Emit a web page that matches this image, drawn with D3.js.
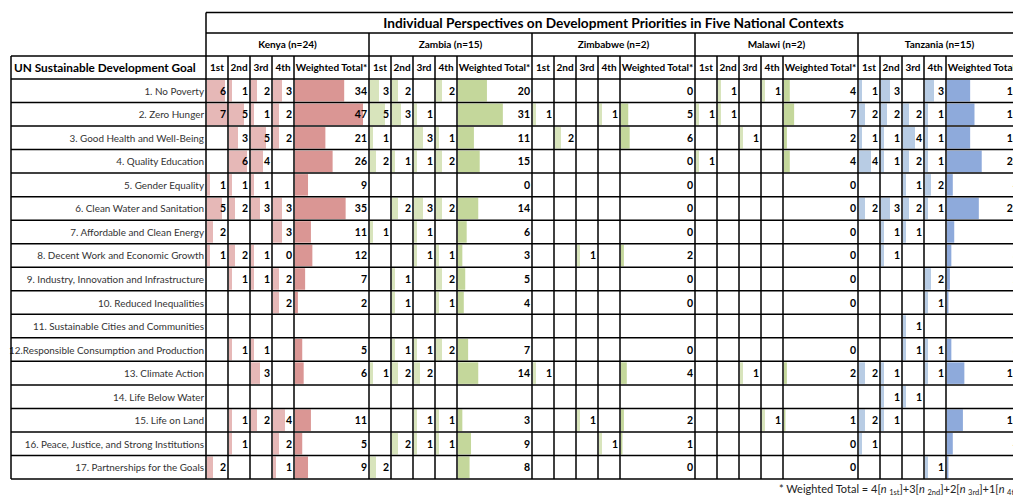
<!DOCTYPE html>
<html>
<head>
<meta charset="utf-8">
<script src="https://cdn.jsdelivr.net/npm/d3@7"></script>
<style>
	body { margin: 0; background: #fff; }
	svg { display: block; font-family: Lato, "Open Sans", sans-serif; }
</style>
</head>
<body>
<svg id="chart" width="1013" height="496"></svg>
<script>

let title = 'Individual Perspectives on Development Priorities in Five National Contexts';
let goals = [
	'1. No Poverty', '2. Zero Hunger', '3. Good Health and Well-Being', '4. Quality Education',
	'5. Gender Equality', '6. Clean Water and Sanitation', '7. Affordable and Clean Energy',
	'8. Decent Work and Economic Growth', '9. Industry, Innovation and Infrastructure',
	'10. Reduced Inequalities', '11. Sustainable Cities and Communities',
	'12.Responsible Consumption and Production', '13. Climate Action', '14. Life Below Water',
	'15. Life on Land', '16. Peace, Justice, and Strong Institutions', '17. Partnerships for the Goals'
];
let countries = ['Kenya (n=24)', 'Zambia (n=15)', 'Zimbabwe (n=2)', 'Malawi (n=2)', 'Tanzania (n=15)'];
let ranks = ['1st', '2nd', '3rd', '4th'];
let _ = null;

// counts of 1st / 2nd / 3rd / 4th priority per goal
let kenyaCounts = [
	[6, 1, 2, 3], [7, 5, 1, 2], [_, 3, 5, 2], [_, 6, 4, _], [1, 1, 1, _], [5, 2, 3, 3],
	[2, _, _, 3], [1, 2, 1, 0], [_, 1, 1, 2], [_, _, _, 2], [_, _, _, _], [_, 1, 1, _],
	[_, _, 3, _], [_, _, _, _], [_, 1, 2, 4], [_, 1, _, 2], [2, _, _, 1]
];
let zambiaCounts = [
	[3, 2, _, 2], [5, 3, 1, _], [1, _, 3, 1], [2, 1, 1, 2], [_, _, _, _], [_, 2, 3, 2],
	[1, _, 1, _], [_, _, 1, 1], [_, 1, _, 2], [_, 1, _, 1], [_, _, _, _], [_, 1, 1, 2],
	[1, 2, 2, _], [_, _, _, _], [_, _, 1, 1], [_, 2, 1, 1], [2, _, _, _]
];
let zimbabweCounts = [
	[_, _, _, _], [1, _, _, 1], [_, 2, _, _], [_, _, _, _], [_, _, _, _], [_, _, _, _],
	[_, _, _, _], [_, _, 1, _], [_, _, _, _], [_, _, _, _], [_, _, _, _], [_, _, _, _],
	[1, _, _, _], [_, _, _, _], [_, _, 1, _], [_, _, _, 1], [_, _, _, _]
];
let malawiCounts = [
	[_, 1, _, 1], [1, 1, _, _], [_, _, 1, _], [1, _, _, _], [_, _, _, _], [_, _, _, _],
	[_, _, _, _], [_, _, _, _], [_, _, _, _], [_, _, _, _], [_, _, _, _], [_, _, _, _],
	[_, _, 1, _], [_, _, _, _], [_, _, _, 1], [_, _, _, _], [_, _, _, _]
];
let tanzaniaCounts = [
	[1, 3, _, 3], [2, 2, 2, 1], [1, 1, 4, 1], [4, 1, 2, 1], [_, _, 1, 2], [2, 3, 2, 1],
	[_, 1, 1, _], [_, 1, _, _], [_, _, _, 2], [_, _, _, 1], [_, _, 1, _], [_, _, 1, 1],
	[2, 1, _, 1], [_, 1, 1, _], [2, 1, _, _], [1, _, _, _], [_, _, _, 1]
];

// weighted totals as printed (blank where the sheet left them empty)
let kenyaTotals = [34, 47, 21, 26, 9, 35, 11, 12, 7, 2, _, 5, 6, _, 11, 5, 9];
let zambiaTotals = [20, 31, 11, 15, 0, 14, 6, 3, 5, 4, _, 7, 14, _, 3, 9, 8];
let zimbabweTotals = [0, 5, 6, 0, 0, 0, 0, 2, 0, 0, _, 0, 4, _, 2, 1, 0];
let malawiTotals = [4, 7, 2, 4, 0, 0, 0, 0, 0, 0, _, 0, 2, _, 1, 0, 0];
let tanzaniaTotals = [16, 19, 16, 24, 4, 22, 5, 3, 2, 1, _, 3, 12, _, 11, 4, 1];

let countsByCountry = [kenyaCounts, zambiaCounts, zimbabweCounts, malawiCounts, tanzaniaCounts];
let totalsByCountry = [kenyaTotals, zambiaTotals, zimbabweTotals, malawiTotals, tanzaniaTotals];
let lightColors = ['#e6b8b7', '#d8e4bc', '#d8e4bc', '#d8e4bc', '#b8cce4'];
let darkColors = ['#da9694', '#c4d79b', '#c4d79b', '#c4d79b', '#8eaadb'];

let svg = d3.select('#chart');

// layout
let left = 11, goalRight = 206;
let yTitle = 12.5, yCountry = 33, yHead = 56, yBody = 79, yBottom = 479;
let countryW = 163, rankBlock = 88;

let xCountry = d3.scaleBand()
	.domain(countries)
	.range([goalRight, goalRight + countryW * countries.length]);
let xRank = d3.scaleBand()
	.domain(ranks)
	.range([0, rankBlock]);
let yRow = d3.scaleBand()
	.domain(goals)
	.range([yBody, yBottom]);
let rowH = yRow.bandwidth();
let rankBar = d3.scaleLinear().domain([0, 7]).range([0, 21]);
let totalBar = d3.scaleLinear().domain([0, 47]).range([0, 68]);

// bars first, grid on top
let body = svg.append('g');
countries.forEach((c, ci) => {
	let x0 = xCountry(c);
	let counts = countsByCountry[ci];
	let totals = totalsByCountry[ci];
	goals.forEach((g, gi) => {
		let y0 = yRow(g);
		ranks.forEach((r, ri) => {
			let v = counts[gi][ri];
			if (v == null) return;
			let cx = x0 + xRank(r);
			if (v > 0) {
				body.append('rect')
					.attr('x', cx + 1).attr('y', y0 + 1)
					.attr('width', rankBar(v)).attr('height', rowH - 2)
					.attr('fill', lightColors[ci]);
			}
			body.append('text')
				.attr('x', cx + xRank.bandwidth() - 2).attr('y', y0 + rowH / 2 + 4)
				.attr('text-anchor', 'end')
				.attr('font-size', 10.5).attr('font-weight', 'bold')
				.text(v);
		});
		let t = totals[gi];
		if (t == null) return;
		let wx = x0 + rankBlock;
		if (t > 0) {
			body.append('rect')
				.attr('x', wx + 1).attr('y', y0 + 1)
				.attr('width', totalBar(t)).attr('height', rowH - 2)
				.attr('fill', darkColors[ci]);
		}
		body.append('text')
			.attr('x', x0 + countryW - 2).attr('y', y0 + rowH / 2 + 4)
			.attr('text-anchor', 'end')
			.attr('font-size', 10.5).attr('font-weight', 'bold')
			.text(t);
	});
});

// goal labels
svg.append('g').selectAll('text')
	.data(goals)
	.join('text')
	.attr('x', goalRight - 2)
	.attr('y', d => yRow(d) + rowH / 2 + 4)
	.attr('text-anchor', 'end')
	.attr('font-size', 9.9)
	.attr('fill', '#333')
	.text(d => d);

// headers
let xEnd = xCountry.range()[1];
svg.append('text')
	.attr('x', (goalRight + xEnd) / 2).attr('y', 28)
	.attr('text-anchor', 'middle')
	.attr('font-size', 13.7).attr('font-weight', 'bold')
	.text(title);
svg.append('text')
	.attr('x', 14).attr('y', yHead + 16)
	.attr('font-size', 11.8).attr('font-weight', 'bold')
	.text('UN Sustainable Development Goal');
countries.forEach(c => {
	let x0 = xCountry(c);
	svg.append('text')
		.attr('x', x0 + countryW / 2).attr('y', yCountry + 15)
		.attr('text-anchor', 'middle')
		.attr('font-size', 10).attr('font-weight', 'bold')
		.text(c);
	ranks.forEach(r => {
		svg.append('text')
			.attr('x', x0 + xRank(r) + xRank.bandwidth() / 2).attr('y', yHead + 15)
			.attr('text-anchor', 'middle')
			.attr('font-size', 10).attr('font-weight', 'bold')
			.text(r);
	});
	svg.append('text')
		.attr('x', x0 + rankBlock + (countryW - rankBlock) / 2).attr('y', yHead + 15)
		.attr('text-anchor', 'middle')
		.attr('font-size', 10).attr('font-weight', 'bold')
		.text('Weighted Total*');
});

// grid lines
let grid = svg.append('g').attr('stroke', '#000').attr('stroke-width', 1.5);
let hline = (y, x1, x2) => grid.append('line').attr('x1', x1).attr('x2', x2).attr('y1', y).attr('y2', y);
let vline = (x, y1, y2) => grid.append('line').attr('x1', x).attr('x2', x).attr('y1', y1).attr('y2', y2);
hline(yTitle, goalRight, xEnd);
hline(yCountry, goalRight, xEnd);
hline(yHead, left, xEnd);
goals.forEach(g => hline(yRow(g), left, xEnd));
hline(yBottom, left, xEnd);
vline(left, yHead, yBottom);
vline(goalRight, yTitle, yBottom);
countries.forEach(c => {
	let x0 = xCountry(c);
	vline(x0 + countryW, yCountry, yBottom);
	ranks.forEach(r => vline(x0 + xRank(r) + xRank.bandwidth(), yHead, yBottom));
});

// footnote
let note = svg.append('text')
	.attr('x', 779).attr('y', 493)
	.attr('font-size', 11).attr('fill', '#222');
let parts = [['* Weighted Total = 4[', '1st', ']+3['], ['', '2nd', ']+2['], ['', '3rd', ']+1['], ['', '4th', ']']];
parts.forEach(p => {
	if (p[0]) note.append('tspan').text(p[0]);
	note.append('tspan').attr('font-style', 'italic').text('n ');
	note.append('tspan').attr('font-size', 7.5).attr('dy', 2).text(p[1]);
	note.append('tspan').attr('dy', -2).text(p[2]);
});

</script>
</body>
</html>
